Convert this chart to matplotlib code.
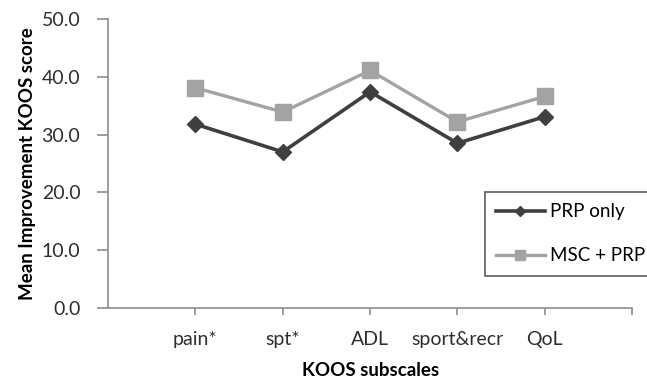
import matplotlib.pyplot as plt

categories = ["pain*", "spt*", "ADL", "sport&recr", "QoL"]
prp_only = [31.8, 27.0, 37.4, 28.5, 33.1]
msc_prp = [38.1, 33.9, 41.1, 32.2, 36.6]

plt.rcParams['font.family'] = ['Lato', 'DejaVu Sans']

fig = plt.figure(figsize=(6.47, 3.81), dpi=100)
ax = fig.add_axes([0.167, 0.192, 0.810, 0.758])

x = list(range(1, len(categories) + 1))
ax.plot(x, msc_prp, color='#a3a3a3', lw=2.4, marker='s', ms=11, label="MSC + PRP", zorder=2)
ax.plot(x, prp_only, color='#3f3f3f', lw=2.6, marker='D', ms=8, label="PRP only", zorder=3)

ax.set_xlim(0, 6)
ax.set_ylim(0, 50)
ax.set_yticks([0, 10, 20, 30, 40, 50])
ax.set_yticklabels([f"{v:.1f}" for v in [0, 10, 20, 30, 40, 50]])
ax.set_xticks(x + [6])
ax.set_xticklabels(categories + [""])

for s in ['top', 'right']:
    ax.spines[s].set_visible(False)
for s in ['left', 'bottom']:
    ax.spines[s].set_color('#8c8c8c')
    ax.spines[s].set_linewidth(1.2)
ax.tick_params(axis='y', length=8, width=1.2, color='#8c8c8c', labelsize=14, labelcolor='#2e2e2e', pad=12)
ax.tick_params(axis='x', length=5, width=1.2, color='#8c8c8c', labelsize=14, labelcolor='#2e2e2e', pad=12)

ax.set_xlabel("KOOS subscales", fontsize=13.5, fontweight='bold', labelpad=10)
ax.set_ylabel("Mean Improvement KOOS score", fontsize=13.5, fontweight='bold', labelpad=4)

handles, labels = ax.get_legend_handles_labels()
leg = ax.legend(handles[::-1], labels[::-1], loc='upper left', bbox_to_anchor=(0.719, 0.401),
                fontsize=13.5, frameon=True, fancybox=False, edgecolor='#333333',
                labelspacing=1.45, handlelength=2.6, handletextpad=0.3, borderpad=0.6,
                borderaxespad=0)
leg.get_frame().set_linewidth(1.2)
for h in leg.legend_handles:
    h.set_markersize(h.get_markersize() * 0.7)

fig.savefig("out.png", dpi=100)
